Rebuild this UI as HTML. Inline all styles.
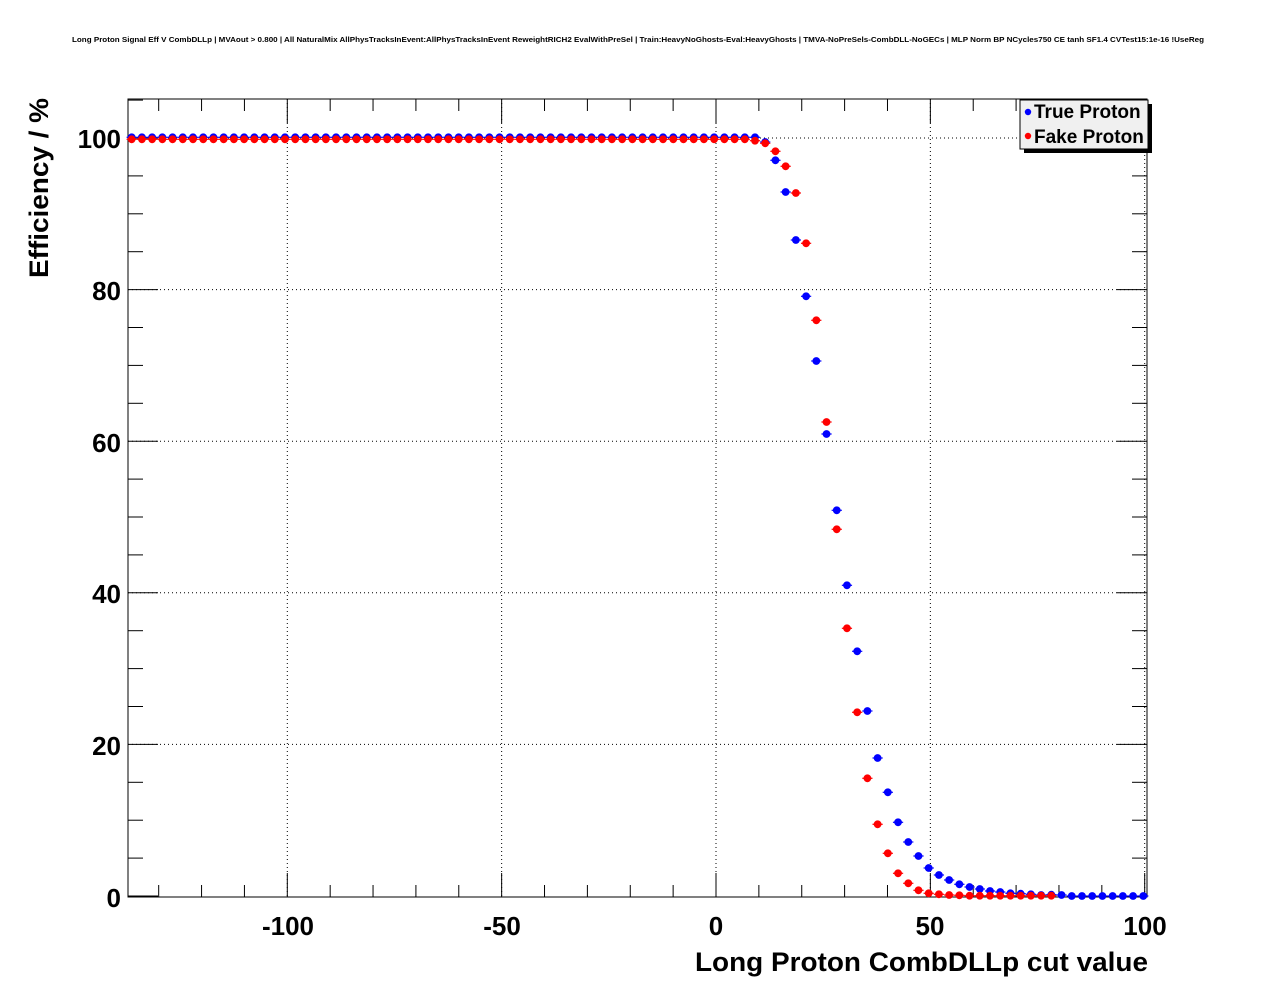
<!DOCTYPE html>
<html><head><meta charset="utf-8"><style>
html,body{margin:0;padding:0;background:#fff;}
svg{display:block;font-family:"Liberation Sans",Arial,sans-serif;}
</style></head><body>
<svg id="s" width="1276" height="996" viewBox="0 0 1276 996" xmlns="http://www.w3.org/2000/svg">
<rect width="1276" height="996" fill="#fff"/>
<text x="638" y="42" font-size="7.5" font-weight="bold" text-anchor="middle" textLength="1132" lengthAdjust="spacingAndGlyphs">Long Proton Signal Eff V CombDLLp | MVAout &gt; 0.800 | All NaturalMix AllPhysTracksInEvent:AllPhysTracksInEvent ReweightRICH2 EvalWithPreSel | Train:HeavyNoGhosts-Eval:HeavyGhosts | TMVA-NoPreSels-CombDLL-NoGECs | MLP Norm BP NCycles750 CE tanh SF1.4 CVTest15:1e-16 !UseReg</text>
<g id="grid" stroke="#000" stroke-width="1" stroke-dasharray="1,3"></g>
<g id="ticks" stroke="#000" stroke-width="1"></g>
<rect x="128" y="99" width="1019" height="798" fill="none" stroke="#000" stroke-width="1"/>
<g id="pts"></g>
<g font-size="26" font-weight="bold" text-anchor="end">
<text x="121" y="148">100</text><text x="121" y="300">80</text><text x="121" y="452">60</text><text x="121" y="603">40</text><text x="121" y="755">20</text><text x="121" y="907">0</text>
</g>
<g font-size="26" font-weight="bold" text-anchor="middle">
<text x="288" y="935">-100</text><text x="502" y="935">-50</text><text x="716" y="935">0</text><text x="930" y="935">50</text><text x="1145" y="935">100</text>
</g>
<text x="695" y="971" font-size="27" font-weight="bold" textLength="453" lengthAdjust="spacingAndGlyphs">Long Proton CombDLLp cut value</text>
<text transform="translate(48,278) rotate(-90)" font-size="27" font-weight="bold" textLength="180" lengthAdjust="spacingAndGlyphs">Efficiency / %</text>
<rect x="1024" y="104" width="128" height="49" fill="#000"/>
<rect x="1020" y="100" width="128" height="49" fill="#f0f0f0" stroke="#000" stroke-width="1"/>
<circle cx="1028" cy="112" r="3.2" fill="#00f"/>
<circle cx="1028" cy="136" r="3.2" fill="#f00"/>
<text x="1034" y="118" font-size="19" font-weight="bold">True Proton</text>
<text x="1034" y="143" font-size="19" font-weight="bold">Fake Proton</text>
</svg>
<script>
(function(){
var NS="http://www.w3.org/2000/svg";
function el(p,n,a){var e=document.createElementNS(NS,n);for(var k in a)e.setAttribute(k,a[k]);p.appendChild(e);return e;}
var g=document.getElementById('grid'),t=document.getElementById('ticks'),P=document.getElementById('pts');
function X(v){return 716+v*4.287;}function Y(v){return 896-v*7.58;}
[-100,-50,0,50,100].forEach(function(v){el(g,'line',{x1:X(v),x2:X(v),y1:99,y2:897});});
[20,40,60,80,100].forEach(function(v){el(g,'line',{x1:128,x2:1147,y1:Y(v),y2:Y(v)});});
for(var v=-130;v<=100;v+=10){var x=X(v),L=(v%50==0)?24:12;
 el(t,'line',{x1:x,x2:x,y1:897,y2:897-L});el(t,'line',{x1:x,x2:x,y1:99,y2:99+L});}
for(var v=0;v<=105;v+=5){var y=Y(v),L=(v%20==0)?30:15;
 el(t,'line',{x1:128,x2:128+L,y1:y,y2:y});el(t,'line',{x1:1147,x2:1147-L,y1:y,y2:y});}
var B={62:142,63:160.3,64:192,65:240,66:296.3,67:361,68:434,69:510.3,70:585.3,71:651.3,72:711,73:758,74:792.3,75:822.3,76:842,77:856,78:868,79:875,80:880,81:884.3,82:887,83:889,84:891,85:892,86:893.3,87:893.7,88:894.3,89:895,90:894.7,91:895};
var R={61:140.7,62:143.3,63:151.3,64:166.3,65:193,66:243.3,67:320.3,68:422,69:529.3,70:628.3,71:712.3,72:778.3,73:824.3,74:853.3,75:873.3,76:883.3,77:890.3,78:893.3,79:894.3,80:895,81:895.3};
var w=10.218;
function draw(col,f,n){for(var i=0;i<n;i++){var x=131.7+i*w,y=f(i);
 el(P,'line',{x1:x-w/2,x2:x+w/2,y1:y,y2:y,stroke:col,'stroke-width':1.2});
 el(P,'circle',{cx:x,cy:y,r:3.9,fill:col});}}
draw('#00f',function(i){return i<=61?137.3:(B[i]!==undefined?B[i]:896);},100);
draw('#f00',function(i){return i<=60?139.3:(R[i]!==undefined?R[i]:895.7);},91);
})();
</script>
</body></html>
